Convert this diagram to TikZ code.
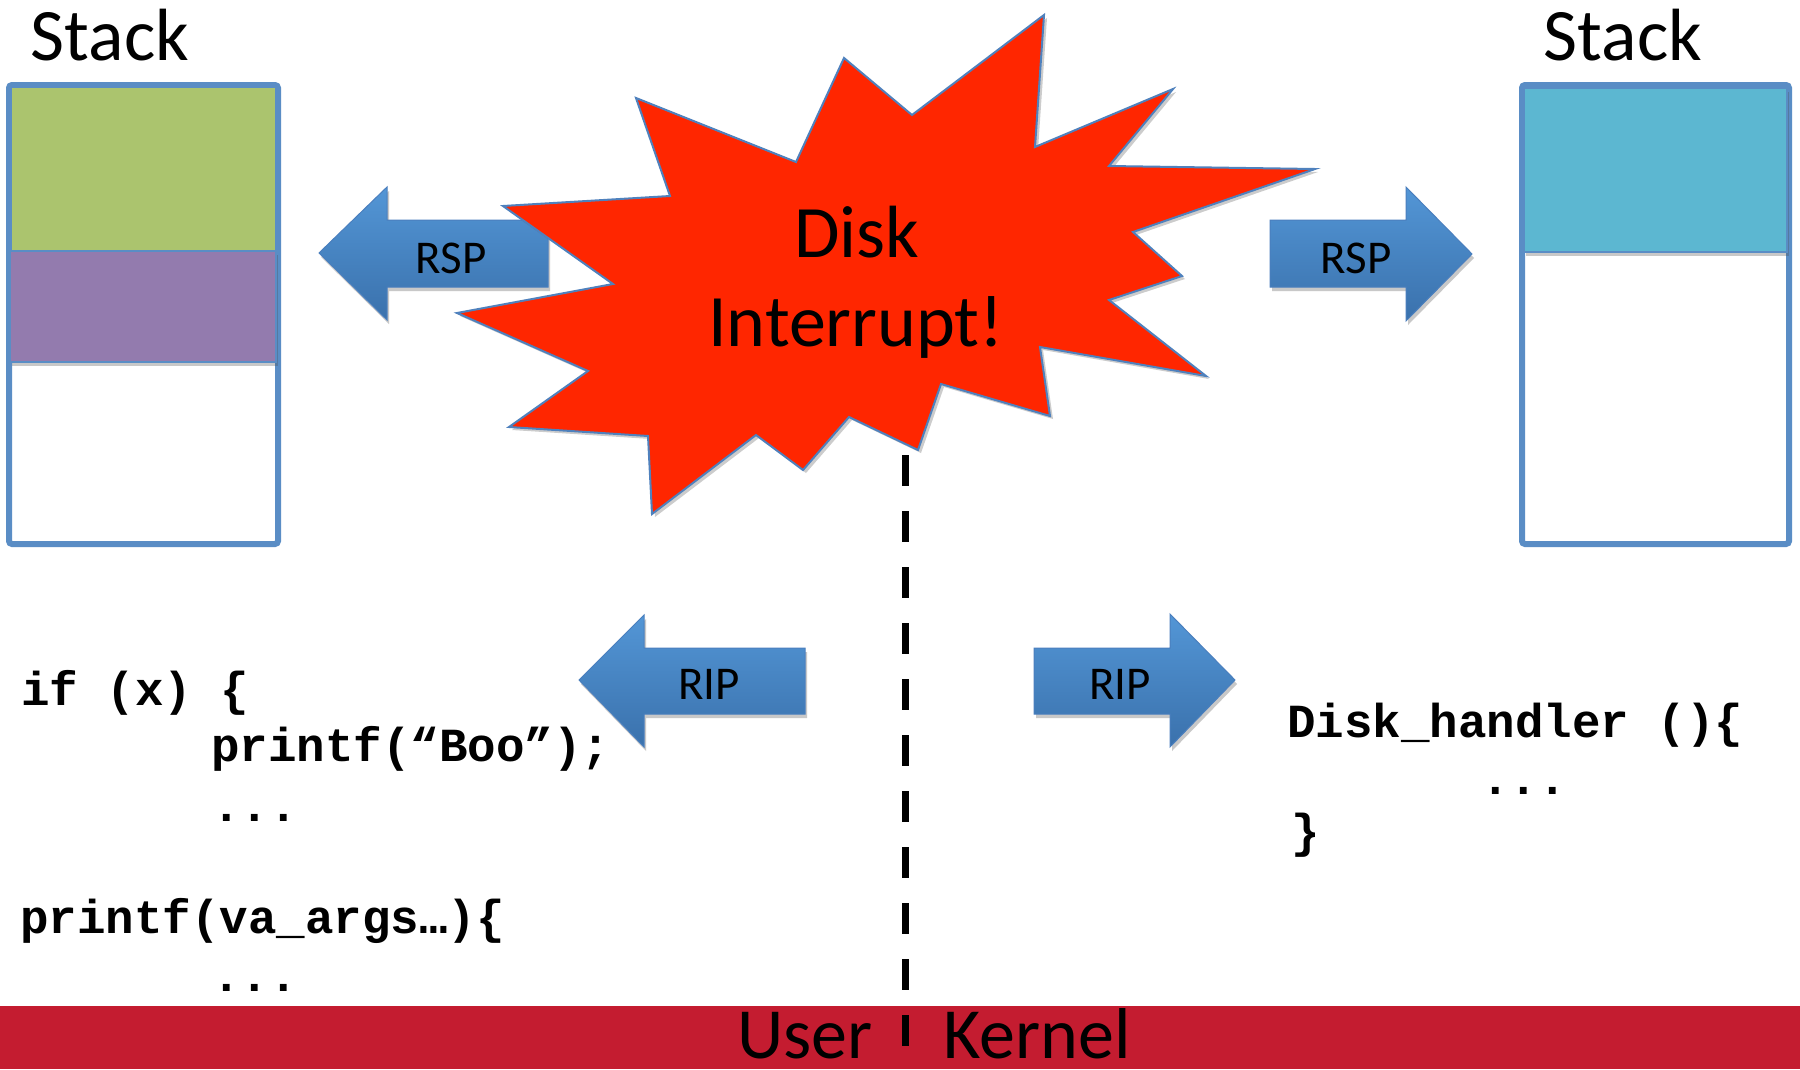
\documentclass[tikz,border=0pt]{standalone}
\usepackage{fontspec}
\setmainfont{Carlito}
\newfontfamily\codefont{Liberation Mono}
\usetikzlibrary{shadows}
\definecolor{boxblue}{HTML}{5A8DC5}
\definecolor{greenblk}{HTML}{ABC46E}
\definecolor{purpleblk}{HTML}{937BAE}
\definecolor{cyanblk}{HTML}{5CB7D1}
\definecolor{arrtop}{HTML}{5396D6}
\definecolor{arrbot}{HTML}{3A71AC}
\definecolor{arrline}{HTML}{4A7FBE}
\definecolor{starred}{HTML}{FF2600}
\definecolor{starline}{HTML}{4F81BD}
\definecolor{barred}{HTML}{C41C30}
\tikzset{
  stackbox/.style={draw=boxblue, line width=6, fill=white, rounded corners=3},
  blockfill/.style={draw=boxblue, line width=1.2},
  softshadow/.style={drop shadow={shadow xshift=2pt, shadow yshift=-4pt, opacity=.3, fill=black!70}},
  blockarrow/.style={top color=arrtop, bottom color=arrbot, draw=arrline, line width=1, softshadow},
  starshape/.style={fill=starred, draw=starline, line width=2, drop shadow={shadow xshift=3pt, shadow yshift=-3pt, opacity=.2, fill=black}},
  biglabel/.style={font=\fontsize{74}{89}\selectfont, inner sep=0, anchor=base},
  arrlabel/.style={font=\fontsize{47}{56}\selectfont, inner sep=0, anchor=base},
  codetext/.style={font=\codefont\bfseries\fontsize{47.5}{57}\selectfont, inner sep=0, anchor=base west},
  dashline/.style={line width=7, dash pattern=on 31pt off 25pt, black},
}
\begin{document}
\begin{tikzpicture}[x=1pt, y=-1pt]
\useasboundingbox (0,0) rectangle (1800,1069);
\fill[white] (0,0) rectangle (1800,1069);

% stacks
\draw[stackbox] (9,85) rectangle (278,544);
\fill[greenblk] (12,88) rectangle (275,251);
\draw[blockfill, fill=purpleblk, softshadow] (10,251) rectangle (276,362);
\draw[stackbox] (1522,85) rectangle (1789,544);
\draw[blockfill, fill=cyanblk, softshadow] (1524,88) rectangle (1787,252);
\node[biglabel] (stackL) at (110,60) {Stack};
\node[biglabel] (stackR) at (1623,60) {Stack};

% block arrows
\draw[blockarrow] (319,253) -- (387,187) -- (387,220) -- (548,220) -- (548,287) -- (387,287) -- (387,320) -- cycle;
\draw[blockarrow] (1270,220) -- (1406,220) -- (1406,187) -- (1472,254) -- (1406,321) -- (1406,287) -- (1270,287) -- cycle;
\draw[blockarrow] (579,680) -- (644,615) -- (644,648) -- (805,648) -- (805,714) -- (644,714) -- (644,747) -- cycle;
\draw[blockarrow] (1034,648) -- (1170,648) -- (1170,614) -- (1235,680) -- (1170,747) -- (1170,714) -- (1034,714) -- cycle;
\node[arrlabel] (rspL) at (451,273) {RSP};
\node[arrlabel] (rspR) at (1356,273) {RSP};
\node[arrlabel] (ripL) at (709,699) {RIP};
\node[arrlabel] (ripR) at (1120,699) {RIP};

% star burst
\draw[starshape] (1044,15) -- (1035,147) -- (1173,89) -- (1109,166) -- (1315,169)
  -- (1133,232) -- (1182,276) -- (1109,300) -- (1206,376) -- (1040,347)
  -- (1050,416) -- (941,384) -- (918,450) -- (849,417) -- (803,470)
  -- (756,435) -- (652,514) -- (648,436) -- (509,427) -- (588,371)
  -- (457,313) -- (613,284) -- (503,206) -- (670,196) -- (636,98)
  -- (796,162) -- (844,58) -- (912,115) -- cycle;
\node[biglabel] (disk) at (857,257) {Disk};
\node[biglabel] (intr) at (856,346) {Interrupt!};

% code
\node[codetext] (c1) at (21,705) {if (x) \{};
\node[codetext] (c2) at (211,761) {printf(“Boo”);};
\node[codetext] (c3) at (212,821) {...};
\node[codetext] (c4) at (20,933) {printf(va\_args…)\{};
\node[codetext] (c5) at (212,991) {...};
\node[codetext] (k1) at (1287,737) {Disk\_handler ()\{};
\node[codetext] (k2) at (1481,794) {...};
\node[codetext] (k3) at (1291,847) {\}};

% user / kernel bar
\fill[barred] (0,1006) rectangle (1800,1069);
\coordinate (divtop) at (905,455);
\coordinate (divbot) at (905,1047);
\draw[dashline] (divtop) -- (divbot);
\node[biglabel, font=\fontsize{72}{86}\selectfont, text depth=0pt] (user) at (805,1058) {User};
\node[biglabel, font=\fontsize{72}{86}\selectfont, text depth=0pt] (kernel) at (1037,1058) {Kernel};
\end{tikzpicture}
\end{document}
